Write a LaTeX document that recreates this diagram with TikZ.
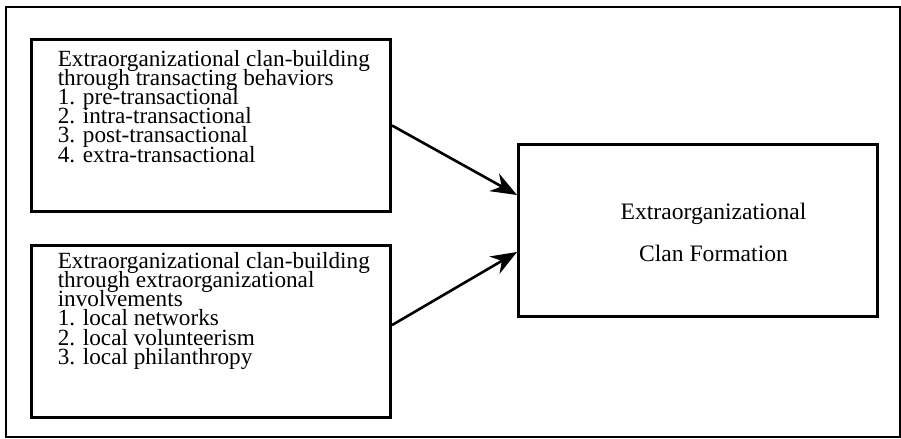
\documentclass[tikz,border=0pt]{standalone}
\usepackage{fontspec}
\setmainfont{Liberation Serif}
\usepackage{tikz}
\usetikzlibrary{positioning, arrows.meta}

\newcommand{\listfont}{\fontsize{11.6}{9.6}\selectfont\lineskiplimit=-20pt\relax}

\begin{document}
\begin{tikzpicture}[x=0.5pt, y=-0.5pt, >={Stealth[length=13pt, width=10pt]}, thick,
	box/.style={draw, line width=1.5pt, minimum width=179.5pt, minimum height=86pt, inner sep=0pt},
	txt/.style={align=left, inner sep=0pt, font=\listfont},
	link/.style={->, line width=1.3pt}]
	\useasboundingbox (0,0) rectangle (901,439);
	\draw[line width=1.2pt] (6,7) rectangle (900,437);

	%Caixas:
	\node[box, anchor=north west]		(trans)		at (30,38)		{};
	\node[box, below=15.5pt of trans]	(invol)						{};
	\node[box, anchor=north west]		(form)		at (517,143)	{};

	%Textos:
	\node[txt, anchor=north west]	(translist)	at ([xshift=13.5pt, yshift=-5.6pt]trans.north west)
		{Extraorganizational clan-building\\through transacting behaviors\\1. pre-transactional\\2. intra-transactional\\3. post-transactional\\4. extra-transactional};
	\node[txt, anchor=north west]	(invollist)	at ([xshift=13.5pt, yshift=-3.7pt]invol.north west)
		{Extraorganizational clan-building\\through extraorganizational\\involvements\\1. local networks\\2. local volunteerism\\3. local philanthropy};
	\node[txt, align=center, font=\fontsize{11.8}{21}\selectfont]	(formtxt)	at ([xshift=7.75pt, yshift=-1.2pt]form.center)
		{Extraorganizational\\Clan Formation};

	%Setas:
	\draw[link] (trans.east)				-- ([yshift=17.75pt]form.west);
	\draw[link] ([yshift=3.2pt]invol.east)	-- ([yshift=-10.75pt]form.west);
\end{tikzpicture}
\end{document}
